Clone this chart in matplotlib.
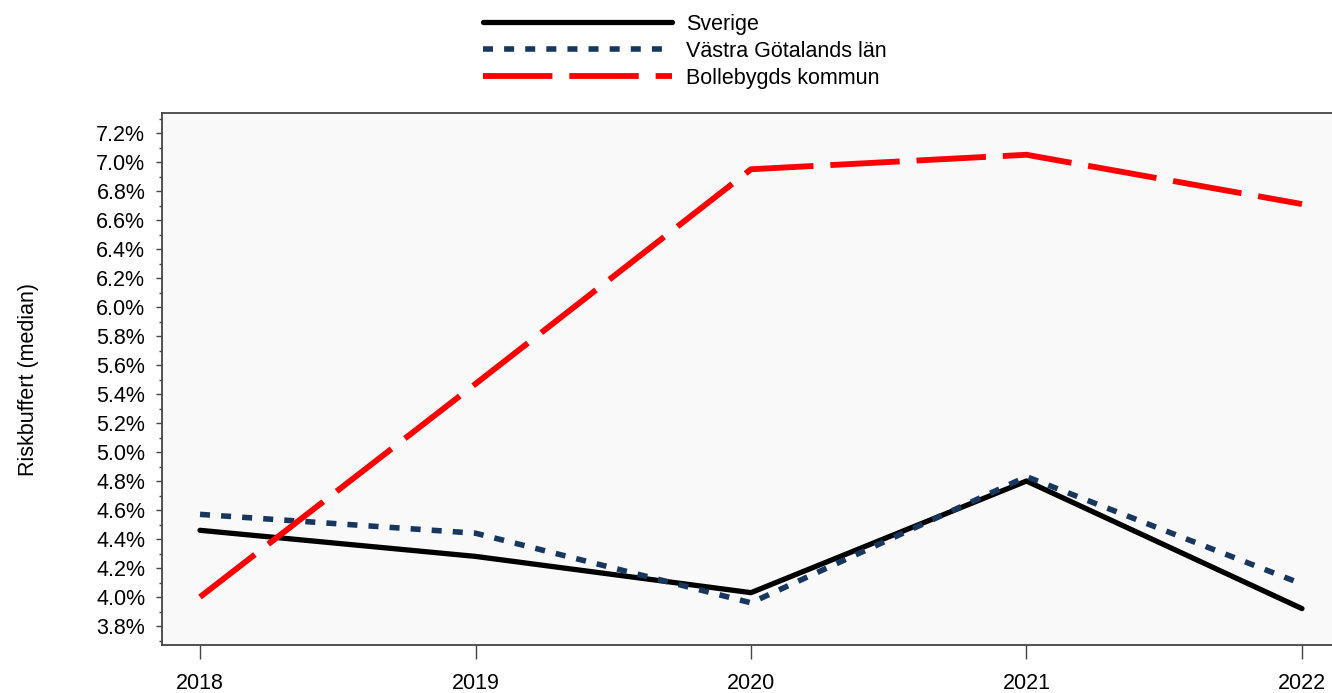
import matplotlib
matplotlib.use("Agg")
import matplotlib.pyplot as plt
from matplotlib.ticker import MultipleLocator, FuncFormatter

plt.rcParams['font.family'] = ['Liberation Sans', 'DejaVu Sans']

years = [2018, 2019, 2020, 2021, 2022]
sverige = [4.46, 4.28, 4.03, 4.80, 3.92]
vastra = [4.57, 4.44, 3.96, 4.83, 4.09]
bollebygd = [4.00, 5.47, 6.95, 7.05, 6.71]
labels = ["Sverige", "Västra Götalands län", "Bollebygds kommun"]

fig = plt.figure(figsize=(13.32, 6.93), dpi=100)
ax = fig.add_axes([162/1332, 48/693, 1 - 162/1332, (645-113)/693])
ax.set_facecolor('#f9f9f9')

ax.plot(years, sverige, color='black', lw=3.8, solid_capstyle='round', label=labels[0])
ax.plot(years, vastra, color='#17375e', lw=4.0, linestyle=(0, (1.8, 2.0)), label=labels[1])
ax.plot(years, bollebygd, color='#ff0000', lw=4.2, linestyle=(0, (11.9, 2.9)), label=labels[2])

ax.set_xlim(2017.862, 2022.109)
ax.set_ylim(3.669, 7.338)
ax.set_xticks(years)
ax.yaxis.set_major_locator(MultipleLocator(0.2))
ax.yaxis.set_minor_locator(MultipleLocator(0.1))
ax.yaxis.set_major_formatter(FuncFormatter(lambda v, p: f"{v:.1f}%"))

for s in ['left', 'top', 'bottom']:
    ax.spines[s].set_color('#444444')
    ax.spines[s].set_linewidth(1.3)
ax.spines['right'].set_visible(False)

ax.tick_params(axis='y', which='major', length=4, width=1, color='#444444', labelsize=15.5, pad=8)
ax.tick_params(axis='y', which='minor', length=2.5, width=1, color='#444444')
ax.tick_params(axis='x', which='major', length=10, width=1, color='#444444', labelsize=15.5, pad=10.5)

ax.set_ylabel("Riskbuffert (median)", fontsize=15.5)
ax.yaxis.set_label_coords(-0.105, 0.5)

fig.legend(loc='upper center', bbox_to_anchor=(0.514, 1.008), frameon=False,
           fontsize=15.5, handlelength=8.8, handletextpad=0.65, labelspacing=0.28)

fig.savefig("out.png", dpi=100)
